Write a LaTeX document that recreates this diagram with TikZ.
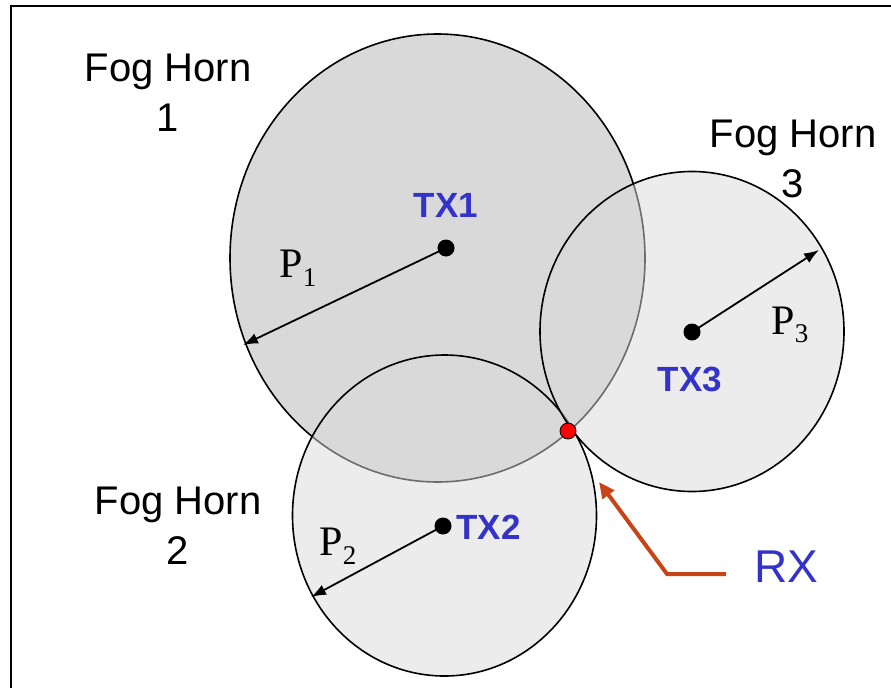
\documentclass[tikz,border=0pt]{standalone}
\usepackage{fontspec}
\setmainfont{Liberation Sans}
\newfontfamily\timesfont{Liberation Serif}
\usepackage{tikz}
\usetikzlibrary{arrows.meta}
\definecolor{txblue}{RGB}{51,51,204}
\definecolor{rxorange}{RGB}{200,68,20}
\newcommand{\plab}[1]{{\timesfont P\raisebox{-0.45ex}{\fontsize{27}{27}\selectfont #1}}}

\begin{document}
\begin{tikzpicture}[
  x=1pt,y=-1pt,
  zone/.style={draw=black,line width=1.6pt,fill=black!15},
  zonelite/.style={zone,fill opacity=0.5},
  tx/.style={circle,fill=black,minimum size=17pt,inner sep=0pt},
  rx/.style={circle,draw=black,fill=red,line width=0.8pt,minimum size=16pt,inner sep=0pt},
  rng/.style={-{Latex[length=15pt,width=11pt]},line width=1.8pt},
  horn/.style={font=\fontsize{40}{50}\selectfont,align=center},
  txlab/.style={text=txblue,font=\fontsize{35}{40}\selectfont\bfseries},
  plabel/.style={font=\fontsize{42}{48}\selectfont}]

\useasboundingbox (0,0) rectangle (891,688);
% frame (top and left only)
\draw[line width=2.2pt] (11,688) -- (11,6) -- (891,6);

% ================= coverage zones =================
\draw[zone] (437.5,258) ellipse [x radius=207.5pt,y radius=224pt];
\draw[zonelite] (444.5,515.5) ellipse [x radius=152pt,y radius=160.5pt];
\draw[zonelite] (692,331.5) ellipse [x radius=152pt,y radius=160pt];

% ================= transmitters =================
\node[tx] (tx1) at (446,248) {};
\node[tx] (tx2) at (443,526) {};
\node[tx] (tx3) at (692,332) {};
\coordinate (e1) at (243,345);
\coordinate (e2) at (311,597);
\coordinate (e3) at (819,250);
\draw[rng] (tx1.center) -- (e1);
\draw[rng] (tx2.center) -- (e2);
\draw[rng] (tx3.center) -- (e3);

\node[txlab] (t1) at (446,205) {TX1};
\node[txlab,anchor=west] (t2) at (453,527) {TX2};
\node[txlab] (t3) at (690,379) {TX3};

\node[plabel] (p1) at (298,268) {\plab{1}};
\node[plabel] (p2) at (338,546) {\plab{2}};
\node[plabel] (p3) at (790,325) {\plab{3}};

% ================= horn labels =================
\node[horn] (h1) at (168,93) {Fog Horn\\1};
\node[horn] (h2) at (178,526) {Fog Horn\\2};
\node[horn] (h3) at (793,159) {Fog Horn\\3};

% ================= receiver =================
\node[rx] (rx) at (568,431) {};
\node[text=txblue,font=\fontsize{46}{50}\selectfont] (rxl) at (786,567) {RX};
\coordinate (rxa) at (726,574);
\coordinate (rxb) at (667,574);
\coordinate (rxc) at (599,482);
\draw[rxorange,line width=4pt,-{Triangle[length=16pt,width=14pt]}] (rxa) -- (rxb) -- (rxc);
\end{tikzpicture}
\end{document}
